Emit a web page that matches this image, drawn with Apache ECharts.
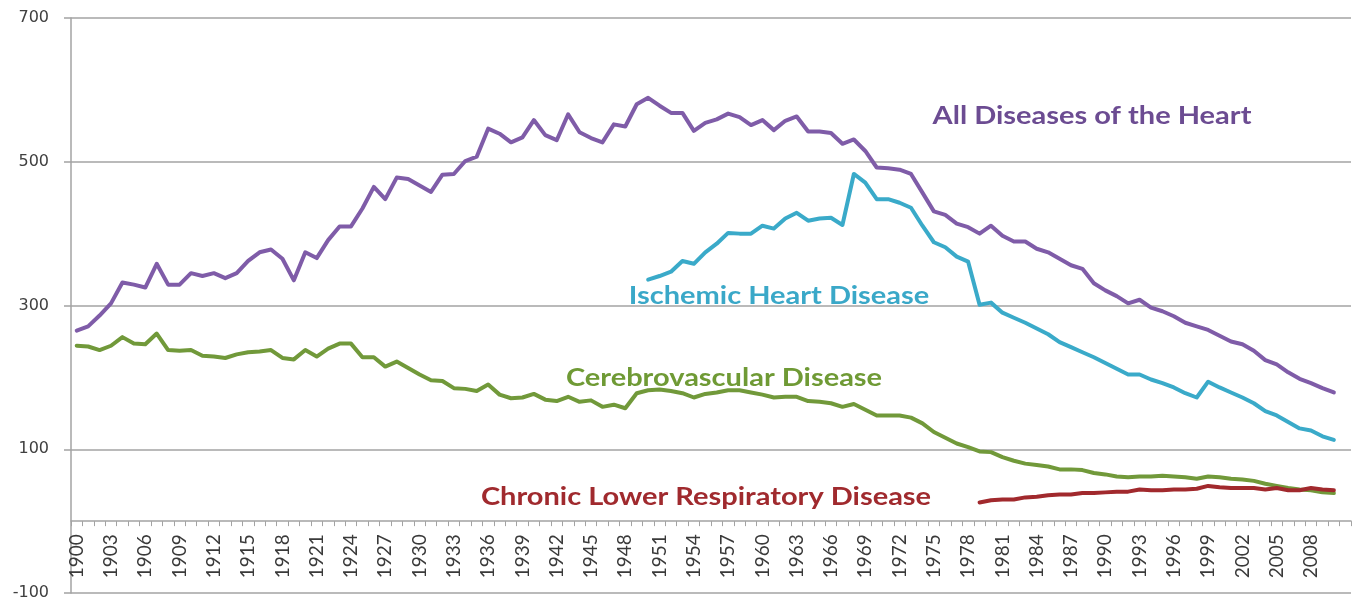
<!DOCTYPE html>
<html>
<head>
<meta charset="utf-8">
<script src="https://cdn.jsdelivr.net/npm/echarts@6/dist/echarts.min.js"></script>
<style>
html,body{margin:0;padding:0;background:#fff;}
#chart{width:1358px;height:601px;}
</style>
</head>
<body>
<div id="chart"></div>
<script>
// Categories: years 1900-2011 (2011 is an empty slot at the end of the axis)
const years = [
1900,1901,1902,1903,1904,1905,1906,1907,1908,1909,
1910,1911,1912,1913,1914,1915,1916,1917,1918,1919,
1920,1921,1922,1923,1924,1925,1926,1927,1928,1929,
1930,1931,1932,1933,1934,1935,1936,1937,1938,1939,
1940,1941,1942,1943,1944,1945,1946,1947,1948,1949,
1950,1951,1952,1953,1954,1955,1956,1957,1958,1959,
1960,1961,1962,1963,1964,1965,1966,1967,1968,1969,
1970,1971,1972,1973,1974,1975,1976,1977,1978,1979,
1980,1981,1982,1983,1984,1985,1986,1987,1988,1989,
1990,1991,1992,1993,1994,1995,1996,1997,1998,1999,
2000,2001,2002,2003,2004,2005,2006,2007,2008,2009,
2010,2011];

const tickLabelYears = [1900,1903,1906,1909,1912,1915,1918,1921,1924,1927,1930,1933,1936,1939,1942,1945,1948,1951,1954,1957,1960,1963,1966,1969,1972,1975,1978,1981,1984,1987,1990,1993,1996,1999,2002,2005,2008];

const yTicks = [-100, 100, 300, 500, 700];

// All Diseases of the Heart, 1900-2010
const heartStart = 1900;
const heartValues = [
265,271,286,303,332,329,325,358,329,329,
345,341,345,338,345,362,374,378,365,335,
374,366,391,410,410,435,465,448,478,476,
467,458,482,483,501,507,546,539,527,534,
558,537,530,566,541,533,527,552,549,580,
589,578,568,568,543,554,559,567,562,551,
558,544,557,563,542,542,540,525,531,515,
492,491,489,483,457,431,426,414,409,400,
411,397,389,389,379,374,365,356,351,331,
321,313,303,308,297,292,285,276,271,266,
258,250,246,237,224,218,207,198,192,185,
179];

// Ischemic Heart Disease, 1950-2010
const ischemicStart = 1950;
const ischemicValues = [
336,341,347,362,358,374,386,401,400,400,
411,407,421,429,418,421,422,412,483,471,
448,448,443,436,411,388,381,368,361,301,
304,290,283,276,268,260,249,242,235,228,
220,212,204,204,197,192,186,178,172,194,
186,179,172,164,153,147,138,129,126,118,
113];

// Cerebrovascular Disease, 1900-2010
const cerebroStart = 1900;
const cerebroValues = [
244,243,238,244,256,247,246,261,238,237,
238,230,229,227,232,235,236,238,227,225,
238,229,240,247,247,228,228,215,222,213,
204,196,195,185,184,181,190,176,171,172,
177,169,167,173,166,168,159,162,157,178,
182,183,181,178,172,177,179,182,182,179,
176,172,173,173,167,166,164,159,163,155,
147,147,147,144,136,124,116,108,103,97,
96,89,84,80,78,76,72,72,71,67,
65,62,61,62,62,63,62,61,59,62,
61,59,58,56,52,49,46,44,43,40,
39];

// Chronic Lower Respiratory Disease, 1979-2010
const clrdStart = 1979;
const clrdValues = [
26,29,30,30,33,34,36,37,37,39,
39,40,41,41,44,43,43,44,44,45,
49,47,46,46,46,44,46,43,43,46,
44,43];

const seriesNames = ['All Diseases of the Heart','Ischemic Heart Disease','Cerebrovascular Disease','Chronic Lower Respiratory Disease'];
const seriesColors = ['#7f5ca8','#3aaac9','#71993a','#a1292d'];
const labelColors = ['#6c4c92','#3aa8c8','#6f9a35','#a02a2e'];

function pad(start, values) {
  return years.map(y => {
    const i = y - start;
    return (i >= 0 && i < values.length) ? values[i] : null;
  });
}

const chart = echarts.init(document.getElementById('chart'));
const gridColor = '#a3a3a3';
const dataSets = [
  pad(heartStart, heartValues),
  pad(ischemicStart, ischemicValues),
  pad(cerebroStart, cerebroValues),
  pad(clrdStart, clrdValues)
];

const GRID_LEFT = 71, GRID_RIGHT = 7, GRID_TOP = 18, GRID_BOTTOM = 8;
const plotH = 601 - GRID_TOP - GRID_BOTTOM;
const zeroY = GRID_TOP + plotH * (yTicks[yTicks.length-1] - 0) / (yTicks[yTicks.length-1] - yTicks[0]);

function annot(i, x, y) {
  return { type: 'text', x: x, y: y, scaleX: 1.16, style: { text: seriesNames[i], fill: labelColors[i], font: 'bold 25px Lato', textAlign: 'center', textVerticalAlign: 'middle' } };
}

const option = {
  animation: false,
  backgroundColor: '#ffffff',
  grid: [
    { left: GRID_LEFT, right: GRID_RIGHT, top: GRID_TOP, bottom: GRID_BOTTOM, containLabel: false, outerBoundsMode: 'none' },
    { left: GRID_LEFT, right: GRID_RIGHT, top: zeroY - 1, height: 1, containLabel: false, outerBoundsMode: 'none' }
  ],
  xAxis: [
    {
      type: 'category',
      gridIndex: 0,
      data: years.map(String),
      boundaryGap: true,
      axisLine: { onZero: true, lineStyle: { color: gridColor, width: 1.5 } },
      axisTick: { show: true, interval: 0, length: 5, lineStyle: { color: gridColor, width: 1 } },
      axisLabel: { show: false },
      splitLine: { show: false }
    },
    {
      type: 'category',
      gridIndex: 1,
      position: 'bottom',
      data: years.map(String),
      boundaryGap: true,
      axisLine: { show: false },
      axisTick: { show: false },
      axisLabel: {
        interval: 0,
        formatter: (val) => tickLabelYears.indexOf(Number(val)) >= 0 ? val : '',
        rotate: 90,
        margin: 13,
        fontFamily: 'Lato',
        fontSize: 19,
        color: '#3a3a3a',
        hideOverlap: false
      },
      splitLine: { show: false }
    }
  ],
  yAxis: [
    {
      type: 'value',
      gridIndex: 0,
      min: yTicks[0],
      max: yTicks[yTicks.length - 1],
      interval: 200,
      axisLine: { show: true, onZero: false, lineStyle: { color: gridColor, width: 1.5 } },
      axisTick: { show: true, length: 7, lineStyle: { color: gridColor, width: 1.5 } },
      axisLabel: { fontFamily: 'DejaVu Sans', fontSize: 16, color: '#404040', margin: 22, align: 'right', verticalAlign: 'middle', showMaxLabel: true, showMinLabel: true },
      splitLine: { show: true, lineStyle: { color: gridColor, width: 1.5 } }
    },
    { type: 'value', gridIndex: 1, min: 0, max: 1, show: false }
  ],
  series: dataSets.map((d, i) => ({
    name: seriesNames[i],
    type: 'line',
    xAxisIndex: 0,
    yAxisIndex: 0,
    data: d,
    showSymbol: false,
    connectNulls: false,
    lineStyle: { color: seriesColors[i], width: 4, join: 'round', cap: 'round' },
    itemStyle: { color: seriesColors[i] },
    z: 3 + (i === 3 ? 1 : 0)
  })),
  graphic: [
    annot(0, 1092, 116),
    annot(1, 779, 296),
    annot(2, 724, 378),
    annot(3, 706, 497)
  ]
};
chart.setOption(option);
</script>
</body>
</html>
